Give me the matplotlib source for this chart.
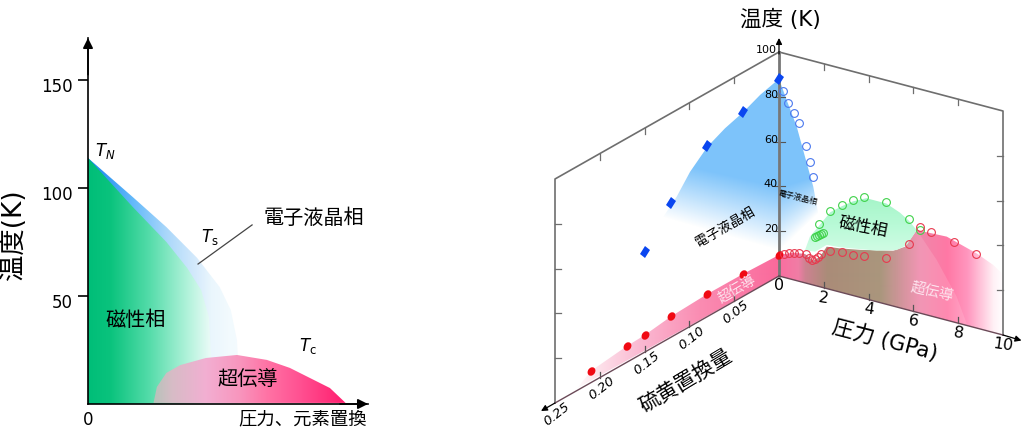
import numpy as np
import matplotlib
matplotlib.use('Agg')
import matplotlib.pyplot as plt
from matplotlib.markers import MarkerStyle
from matplotlib.patches import Polygon
from matplotlib.transforms import Affine2D, ScaledTranslation

plt.rcParams['font.family'] = ['Noto Sans CJK JP', 'DejaVu Sans']
plt.rcParams['mathtext.fontset'] = 'custom'
plt.rcParams['mathtext.it'] = 'DejaVu Sans:italic'
plt.rcParams['mathtext.rm'] = 'DejaVu Sans'
LATIN_FIRST = ['DejaVu Sans', 'Noto Sans CJK JP']

# left panel: schematic phase diagram (x in arbitrary units)
ts_x = [0, 16, 28, 39, 47, 51, 53.2, 53.5, 53.5]
ts_T = [113.9, 95.8, 81.9, 67.6, 54.2, 43.5, 29.6, 22.7, 0]
tn_x = [0, 16, 28, 35.4, 40.4, 43.2, 43.9, 44]
tn_T = [113.9, 91.2, 75, 63, 52.8, 40.3, 23.6, 0]
tc_x = [23.4, 24.6, 28, 32.9, 42.1, 53.2, 63.9, 72.1, 86.4, 92]
tc_T = [0.5, 7.9, 14.4, 18, 21.3, 22.7, 20.4, 16.7, 7.4, 0.5]
left_yticks = [50, 100, 150]

# right panel, wall at pressure = 0: sulfur substitution x vs T
ortho_x = [0, 0.04, 0.08, 0.12, 0.15]
ortho_T = [88, 82.3, 76.2, 59.7, 44.8]
sc_x = [0, 0.04, 0.08, 0.12, 0.15, 0.17, 0.21]
sc_T = [9.4, 10, 10.1, 9.3, 7.6, 7.2, 5.2]

# right panel, wall at x = 0: pressure vs T
ortho_p = [0.19, 0.42, 0.67, 0.91, 1.19, 1.38, 1.52]
ortho_pT = [83.2, 78.2, 74.7, 70.8, 61.2, 54.7, 48.3]
mag_p = [1.62, 1.71, 1.8, 1.89, 1.95, 1.8, 2.29, 2.8, 3.3, 3.8, 4.79, 5.79, 6.31]
mag_T = [21.6, 22.2, 22.9, 23.7, 24.4, 27.8, 34.9, 38.9, 42.5, 45.1, 45.5, 40.7, 37.1]
scp_p = [0.22, 0.43, 0.67, 0.91, 1.2, 1.35, 1.49, 1.61, 1.75, 1.86, 2.29, 2.8, 3.3, 3.8,
         4.79, 5.79, 6.28, 6.8, 7.8, 8.8]
scp_T = [10.4, 11.4, 12, 12.7, 13, 11.6, 11.1, 11.7, 13.2, 14.7, 17.3, 18.1, 18.2, 18.8,
         20.7, 29.4, 38.3, 37.5, 35.7, 33]

# outlines of the shaded regions
blue_edge_x = [0, 0.0212, 0.04, 0.0603, 0.08, 0.0993, 0.1142, 0.129]
blue_edge_T = [88, 85.6, 82.2, 79.6, 75.8, 69, 61.3, 55.7]
blue_edge_p = [0.34, 0.79, 1.16, 1.53, 1.75, 1.8]
blue_edge_pT = [79.5, 68.8, 56.3, 43.9, 32.6, 23.9]
sc_edge_p = [0, 0.64, 1.16, 1.53, 1.83, 2.13, 2.72, 3.62, 5.1, 5.63, 6.15, 7.49, 8.83, 9.57, 10]
sc_edge_T = [9.4, 12.1, 12.9, 10.9, 13.4, 18.7, 19.5, 21.2, 24.7, 27.9, 36.7, 37.3, 33.3, 30.1, 27]
mag_edge_p = [1.16, 1.38, 1.8, 2.29, 2.8, 3.3, 3.9, 4.79, 5.4, 5.79, 6.15,
              5.7, 5.25, 4.36, 2.72, 2.13, 1.61]
mag_edge_T = [14.6, 21.2, 27.3, 34.5, 38.5, 42, 45, 45, 42.5, 40, 36.7,
              28.8, 25.4, 22.8, 20, 19.5, 15.1]
arc_p = [6.15, 7.04, 7.93, 8.4, 5.0, 5.0]
arc_T = [36.7, 25.7, 11.7, 0.3, 0, 24.6]

x_ticks = [0.05, 0.10, 0.15, 0.20, 0.25]
p_ticks = [2, 4, 6, 8, 10]
T_ticks = [20, 40, 60, 80, 100]


def project(p, x, T):
    # oblique projection of (pressure, sulfur, temperature) to figure pixels
    p, x, T = np.asarray(p, float), np.asarray(x, float), np.asarray(T, float)
    return 779 + 22.4 * p - 896 * x, 276 + 5.9 * p + 508 * x - 2.24 * T


def ramp(pos, stops, colors):
    colors = np.array(colors, float) / 255
    return np.stack([np.interp(pos, stops, colors[:, i]) for i in range(colors.shape[1])], axis=-1)


def shade(ax, img, extent, xs, ys, zorder=1):
    clip = Polygon(np.column_stack([xs, ys]), closed=True, transform=ax.transData)
    im = ax.imshow(img, extent=extent, aspect='auto', interpolation='bilinear',
                   origin='upper', zorder=zorder)
    im.set_clip_path(clip)


fig = plt.figure(figsize=(10.24, 4.28), dpi=100)
W, H = 1024.0, 428.0

# ---- left panel
ax = fig.add_axes([88 / W, 1 - 404 / H, 280 / W, 366 / H])
gx = np.linspace(0, 100, 400)[None, :]

blue = ramp(gx, [0, 4, 16, 28, 39, 44, 50, 60],
            [(30, 140, 240), (40, 145, 240), (100, 185, 250), (170, 215, 250),
             (215, 235, 252), (234, 246, 253), (242, 250, 254), (246, 252, 254)])
shade(ax, blue, (0, 100, 0, 170), [0] + ts_x, [0] + ts_T, 1)

green = ramp(gx, [0, 8, 22, 36, 44, 50],
             [(0, 190, 120), (10, 195, 125), (85, 220, 170), (180, 243, 220),
              (236, 251, 248), (242, 251, 252)])
shade(ax, green, (0, 100, 0, 170), [0] + tn_x, [0] + tn_T, 2)

pink = ramp(gx, [23, 30, 42, 54, 64, 76, 92],
            [(180, 195, 185), (215, 188, 198), (242, 175, 210), (248, 150, 190),
             (255, 115, 165), (255, 80, 145), (255, 30, 110)])
shade(ax, pink, (0, 100, 0, 170), tc_x, tc_T, 3)

ax.set_xlim(0, 100)
ax.set_ylim(0, 366 / 2.16)
for s in ['top', 'right']:
    ax.spines[s].set_visible(False)
for s in ['left', 'bottom']:
    ax.spines[s].set_linewidth(1.2)
    ax.spines[s].set_zorder(6)
ax.set_xticks([0])
ax.set_xticklabels(['0'], fontsize=12, family='DejaVu Sans')
ax.set_yticks(left_yticks)
ax.set_yticklabels([str(v) for v in left_yticks], fontsize=12, family='DejaVu Sans')
ax.tick_params(axis='x', length=0, pad=5)
ax.tick_params(axis='y', length=7, width=1.2, pad=4)
shift = ScaledTranslation(0, -5 / 100, fig.dpi_scale_trans)
for lab in ax.get_yticklabels():
    lab.set_transform(lab.get_transform() + shift)

arrow = dict(arrowstyle='-|>', color='k', lw=1.2, mutation_scale=15, shrinkA=0, shrinkB=0)
ax.annotate('', xy=(0, 1.0), xytext=(0, 0.9), xycoords='axes fraction', arrowprops=arrow, zorder=7)
ax.annotate('', xy=(1.0, 0), xytext=(0.9, 0), xycoords='axes fraction', arrowprops=arrow, zorder=7)

ax.text(6.3, 117, '$T_N$', fontsize=12, ha='center', va='center')
ax.text(43.5, 77.3, r'$T_{\mathrm{s}}$', fontsize=12, ha='center', va='center')
ax.text(78.6, 26.8, r'$T_{\mathrm{c}}$', fontsize=12, ha='center', va='center')
ax.plot([39.3, 58.6], [64.8, 82.9], color='#444444', lw=0.9, clip_on=False, zorder=4)
ax.text(80.5, 86, '電子液晶相', fontsize=14.5, ha='center', va='center', zorder=5)
ax.text(17, 38.5, '磁性相', fontsize=14.5, ha='center', va='center', zorder=5)
ax.text(57, 11, '超伝導', fontsize=14.5, ha='center', va='center', zorder=5)
ax.text(76.5, -7, '圧力、元素置換', fontsize=13.2, ha='center', va='center', clip_on=False)
ax.text(-26.5, 78.5, '温度(K)', fontsize=19, rotation=90, ha='center', va='center', clip_on=False,
        family=LATIN_FIRST)

# ---- right panel, drawn in figure pixels through project()
rx = fig.add_axes([530 / W, 0, 494 / W, 1])
rx.patch.set_alpha(0)
rx.axis('off')

# blue region, spans both walls
xx, yy = np.meshgrid(np.arange(630, 840), np.arange(60, 280))
y_white = np.where(xx < 779, 250 + 0.284 * (xx - 779), 250 - 0.96 * (xx - 779))
y_full = np.where(xx < 779, 187 + 0.23 * (xx - 779), 187 - 0.3 * (xx - 779))
t = np.clip((y_white - yy) / np.maximum(y_white - y_full, 1), 0, 1)
img = np.zeros(xx.shape + (4,))
img[..., :3] = np.array([125, 195, 250]) / 255
img[..., 3] = t
bx1, by1 = project(np.zeros(len(blue_edge_x)), blue_edge_x, blue_edge_T)
bx2, by2 = project(blue_edge_p, np.zeros(len(blue_edge_p)), blue_edge_pT)
end_x, end_y = project(0, 0, 9.4)
poly_x = np.r_[bx1[::-1], bx2, end_x]
poly_y = np.r_[by1[::-1], by2, end_y]
shade(rx, img, (630, 840, 280, 60), poly_x, poly_y, 1)

# pink band on the x wall
sx1, sy1 = project(np.zeros(len(sc_x)), sc_x, sc_T)
fx, fy = project([0, 0], [0.225, 0], [1, 0])
gxs = np.arange(530, 1024)[None, :]
pink_l = ramp(gxs, [575, 595, 640, 700, 779],
              [(255, 255, 255), (253, 228, 236), (250, 185, 210), (250, 140, 178), (250, 105, 155)])
shade(rx, pink_l, (530, 1024, 428, 0), np.r_[sx1, fx], np.r_[sy1, fy], 2)

# pink and brown band on the pressure wall
sx2, sy2 = project(sc_edge_p, np.zeros(len(sc_edge_p)), sc_edge_T)
ex, ey = project([10, 0], [0, 0], [0, 0])
pink_r = ramp(gxs, [779, 798, 805, 827, 880, 893, 920, 947, 967, 993, 1003],
              [(250, 110, 160), (240, 125, 165), (205, 130, 145), (170, 140, 120), (170, 150, 125),
               (195, 150, 145), (240, 135, 170), (255, 120, 165), (255, 150, 190), (255, 240, 245),
               (255, 255, 255)])
shade(rx, pink_r, (530, 1024, 428, 0), np.r_[sx2, ex], np.r_[sy2, ey], 2)

# slightly paler part of the band, left of the arc
ax_, ay_ = project(arc_p, np.zeros(len(arc_p)), arc_T)
veil = np.zeros((1, 494, 4))
veil[..., :3] = 1
veil[..., 3] = np.interp(gxs, [893, 920], [0, 0.13])
shade(rx, veil, (530, 1024, 428, 0), ax_, ay_, 2.5)

# magnetic region
mx, my = project(mag_edge_p, np.zeros(len(mag_edge_p)), mag_edge_T)
gys = np.arange(0, 428)[:, None]
green_r = ramp(gys, [197, 225, 258],
               [(165, 245, 200), (185, 250, 215), (215, 252, 232)])
shade(rx, green_r, (530, 1024, 428, 0), mx, my, 3)

# walls
wall = dict(color='#6e6e6e', lw=1.2, zorder=4)
tx, ty = project([0, 0, 0, 10, 10], [0.25, 0.25, 0, 0, 0], [0, 100, 100, 100, 0])
rx.plot(tx, ty, **wall)

tick = dict(color='#6e6e6e', lw=0.9, zorder=4)
for v in x_ticks[:-1]:
    a, b = project(0, v, 100)
    rx.plot([a, a], [b, b + 6], **tick)
    a, b = project(0, v, 0)
    rx.plot([a, a], [b, b - 6], color='#555555', lw=0.9, zorder=5)
for v in p_ticks[:-1]:
    a, b = project(v, 0, 100)
    rx.plot([a, a], [b, b + 6], **tick)
    a, b = project(v, 0, 0)
    rx.plot([a, a], [b, b - 6], color='#555555', lw=0.9, zorder=5)
for v in T_ticks[:-1]:
    a, b = project(0, 0.25, v)
    rx.plot([a, a + 6], [b, b], **tick)
    a, b = project(10, 0, v)
    rx.plot([a - 6, a], [b, b], **tick)
    a, b = project(0, 0, v)
    rx.plot([a - 4, a + 6], [b, b], color='#555555', lw=0.8, zorder=5)

# axes with arrows
a, b = project([0, 0], [0, 0], [0, 100])
rx.plot(a, b, color='#777777', lw=2, zorder=8)
small = dict(arrowstyle='-|>', color='k', lw=0.9, mutation_scale=9, shrinkA=0, shrinkB=0)
rx.annotate('', xy=(779, 38), xytext=(779, 54), arrowprops=small, zorder=9)
a, b = project([0, 10], [0, 0], [0, 0])
rx.plot(a, b, color='#6b4a58', lw=1, zorder=8)
rx.annotate('', xy=(1021.5, 340.5), xytext=(1003, 335), arrowprops=small, zorder=9)
a, b = project([0, 0], [0, 0.25], [0, 0])
rx.plot(a, b, color='#6b4a58', lw=1, zorder=8)
rx.annotate('', xy=(541, 411), xytext=(555, 403), arrowprops=small, zorder=9)

# points
bar = MarkerStyle('s', transform=Affine2D().scale(0.68, 1.0).rotate_deg(-35))
dot = MarkerStyle('o', transform=Affine2D().scale(0.8, 1.0).rotate_deg(-35))
a, b = project(np.zeros(len(ortho_x)), ortho_x, ortho_T)
rx.plot(a, b, ls='none', marker=bar, ms=7, color='#0a46f0', mew=0, zorder=10)
a, b = project(np.zeros(len(sc_x)), sc_x, sc_T)
rx.plot(a, b, ls='none', marker=dot, ms=6.5, color='#f00a14', mew=0, zorder=10)
a, b = project(ortho_p, np.zeros(len(ortho_p)), ortho_pT)
rx.plot(a, b, ls='none', marker='o', ms=5.6, mfc='none', mec='#4a78ee', mew=0.8, zorder=10)
a, b = project(mag_p, np.zeros(len(mag_p)), mag_T)
rx.plot(a, b, ls='none', marker='o', ms=5.6, mfc='none', mec='#3fd24a', mew=0.8, zorder=10)
a, b = project(scp_p, np.zeros(len(scp_p)), scp_T)
rx.plot(a, b, ls='none', marker='o', ms=5.6, mfc='none', mec='#e8384e', mew=0.8, zorder=10)

# tick labels
for v in T_ticks:
    a, b = project(0, 0, v)
    rx.text(a + (-2 if v == 100 else -1), b - 2, str(v), fontsize=8, ha='right', va='center',
            family='DejaVu Sans', zorder=11)
rx.text(779, 285, '0', fontsize=11.5, ha='center', va='center', family='DejaVu Sans', zorder=11)
for v in x_ticks:
    a, b = project(0, v, 0)
    rx.text(a + 2, b + 11, '%.2f' % v, fontsize=9.5, rotation=38, style='oblique',
            ha='center', va='center', family='DejaVu Sans', zorder=11)
for v in p_ticks:
    a, b = project(v, 0, 0)
    rx.text(a, b + 10, str(v), fontsize=11.5, rotation=-8, ha='center', va='center',
            family='DejaVu Sans', zorder=11)

# labels
rx.text(780, 19, '温度 (K)', fontsize=15.5, ha='center', va='center', zorder=11, family=LATIN_FIRST)
rx.text(885, 340, '圧力 (GPa)', fontsize=15.5, rotation=-14.5, ha='center', va='center', zorder=11,
        family=LATIN_FIRST)
rx.text(686, 381, '硫黄置換量', fontsize=15, rotation=31, ha='center', va='center', zorder=11)
rx.text(725, 227, '電子液晶相', fontsize=9.5, rotation=30, ha='center', va='center', zorder=11)
rx.text(798, 197, '電子液晶相', fontsize=5.8, rotation=-14, ha='center', va='center', zorder=11)
rx.text(863, 227, '磁性相', fontsize=12, rotation=-11, ha='center', va='center', zorder=11)
rx.text(737, 289, '超伝導', fontsize=10, rotation=30, color='#fde4ee', ha='center', va='center', zorder=11)
rx.text(932, 292, '超伝導', fontsize=10.5, rotation=-13, color='#fde4ee', ha='center', va='center', zorder=11)

rx.set_xlim(530, 1024)
rx.set_ylim(428, 0)

fig.savefig('out.png', dpi=100)
